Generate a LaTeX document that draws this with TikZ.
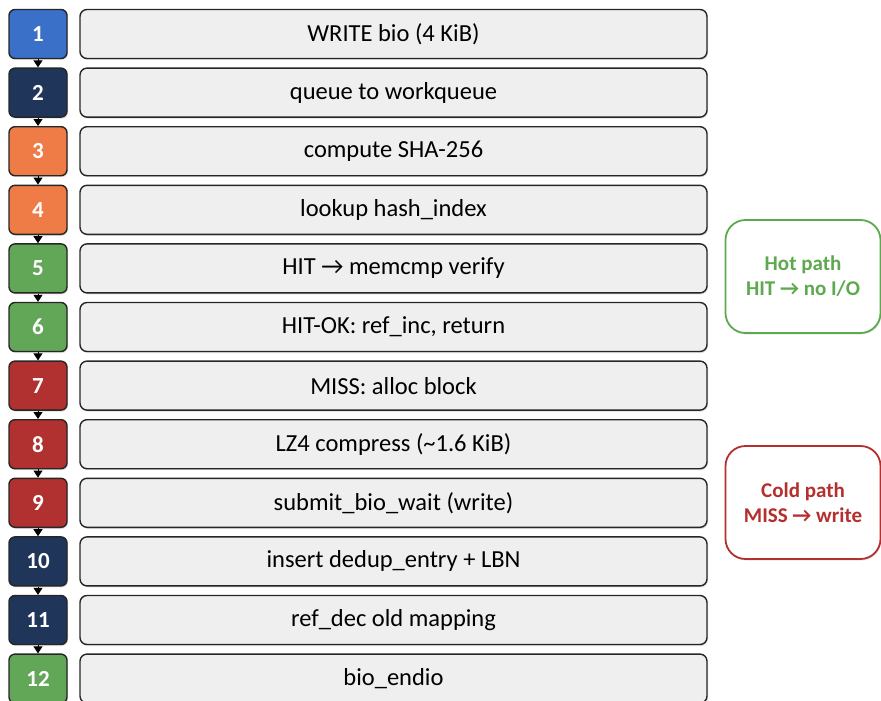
\documentclass[tikz,border=0pt]{standalone}
\usepackage{fontspec}
\setmainfont{Carlito}
\usetikzlibrary{arrows.meta,shadows}
\definecolor{stepblue}{HTML}{3B70C9}
\definecolor{stepnavy}{HTML}{1F355A}
\definecolor{steporange}{HTML}{EF7B46}
\definecolor{stepgreen}{HTML}{62A757}
\definecolor{stepred}{HTML}{B0312F}
\definecolor{labelgray}{HTML}{EFEFEF}
\definecolor{hotgreen}{HTML}{5DA94F}
\definecolor{coldred}{HTML}{B3302E}
\begin{document}
\begin{tikzpicture}[x=1pt,y=-1pt,
  numbox/.style={draw=black!85,line width=1.4pt,rounded corners=6pt,minimum width=58pt,minimum height=49pt,
    text=white,font=\fontsize{23}{25}\selectfont\bfseries,drop shadow={shadow xshift=1pt,shadow yshift=-1.5pt,opacity=0.25}},
  labelbox/.style={draw=black!85,line width=1.4pt,fill=labelgray,rounded corners=7pt,minimum width=627pt,minimum height=49pt,
    font=\fontsize{24.5}{27}\selectfont,drop shadow={shadow xshift=1pt,shadow yshift=-1.5pt,opacity=0.25}},
  pathbox/.style={line width=1.8pt,fill=white,rounded corners=20pt,minimum width=155pt,minimum height=113pt,
    align=center,font=\fontsize{21}{25}\selectfont\bfseries,drop shadow={shadow xshift=1pt,shadow yshift=-1.5pt,opacity=0.2}},
  flow/.style={black,line width=1pt,-{Triangle[width=9pt,length=7pt]}}]
\useasboundingbox (0,0) rectangle (881,701);

% step numbers on the left, step text on the right
\foreach \i/\col/\txt in {1/stepblue/WRITE bio (4 KiB), 2/stepnavy/queue to workqueue,
    3/steporange/compute SHA-256, 4/steporange/lookup hash\_index,
    5/stepgreen/HIT → memcmp verify, 6/stepgreen/{HIT-OK: ref\_inc, return},
    7/stepred/MISS: alloc block, 8/stepred/LZ4 compress (\textasciitilde 1.6 KiB),
    9/stepred/submit\_bio\_wait (write), 10/stepnavy/insert dedup\_entry + LBN,
    11/stepnavy/ref\_dec old mapping, 12/stepgreen/bio\_endio} {
  \node[numbox,fill=\col] (n\i) at (38,{34+(\i-1)*58.6}) {\i};
  \node[labelbox] (t\i) at (393.5,{34+(\i-1)*58.6}) {\txt};
}
\foreach \i [evaluate=\i as \j using int(\i+1)] in {1,...,11}
  \draw[flow] (n\i.south) -- (n\j.north);

% side notes
\node[pathbox,draw=hotgreen,text=hotgreen] (hot) at (803,276.5) {Hot path\\HIT → no I/O};
\node[pathbox,draw=coldred,text=coldred] (cold) at (803,502.5) {Cold path\\MISS → write};
\end{tikzpicture}
\end{document}
